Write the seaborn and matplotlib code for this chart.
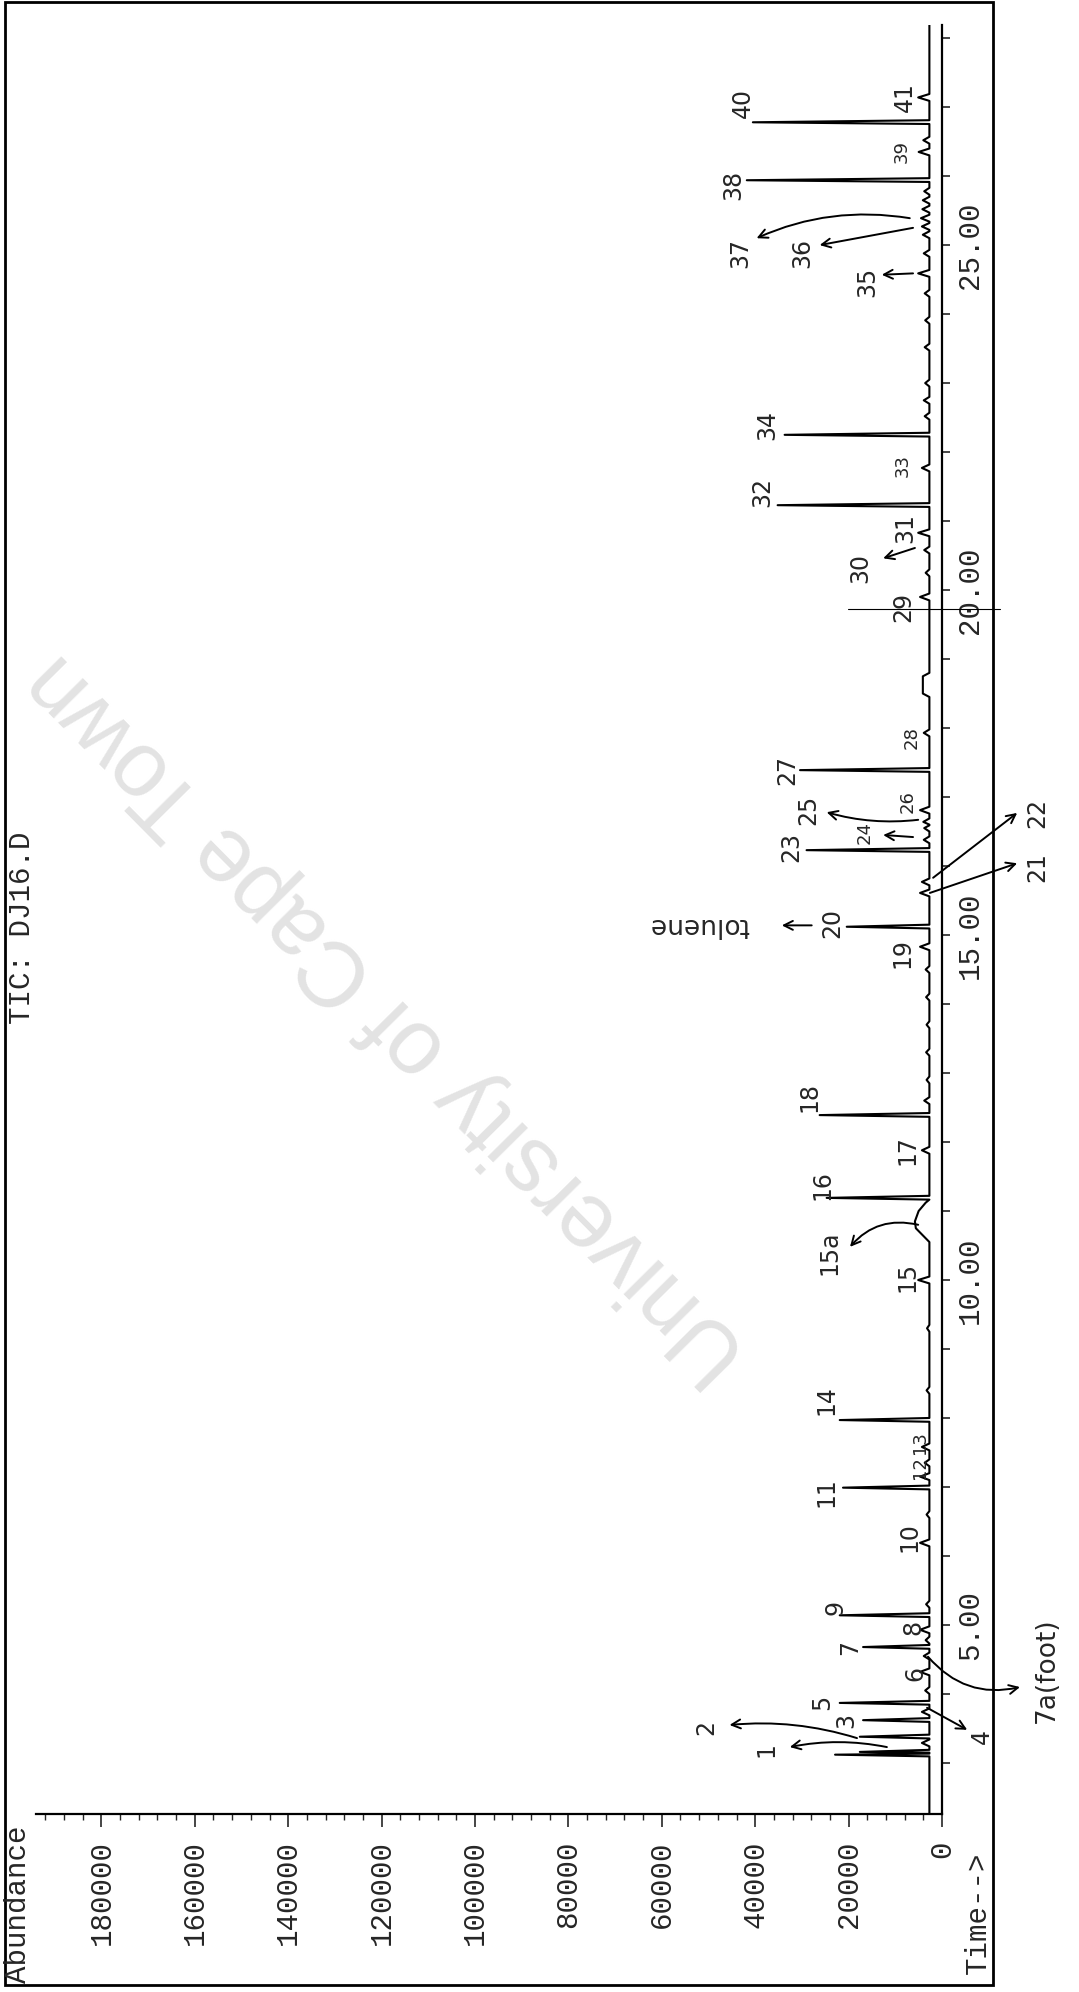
import numpy as np
import pandas as pd
import matplotlib
matplotlib.use("Agg")
import matplotlib.pyplot as plt
import seaborn as sns
from matplotlib.patches import Rectangle
from matplotlib.ticker import MultipleLocator, FormatStrFormatter

# =========================
# DATA
# =========================

time_range = [2.26, 28.19]
abund_range = [194000, 0]
baseline_level = 2700

# tall peaks: retention time (min), apex abundance
major_time = [3.12, 3.16, 3.38, 3.62, 3.87, 4.68, 5.14, 6.99, 7.97, 11.19,
              12.39, 15.12, 16.23, 17.39, 21.23, 22.25, 25.94, 26.78]
major_abund = [22900, 17600, 17600, 16900, 21900, 16900, 21900, 21200, 21900, 24700,
               26200, 20400, 29000, 30400, 35200, 33700, 41800, 40500]

# small bumps on the baseline
minor_time = [3.29, 3.74, 4.05, 4.32, 4.55, 4.78, 4.93, 5.30, 6.19, 6.60,
              7.15, 7.35, 7.58, 8.40, 9.30, 10.00, 11.88, 12.60, 12.90, 13.30,
              13.70, 14.10, 14.50, 14.83, 15.61, 15.77, 16.38, 16.55, 16.64, 16.81,
              17.93, 19.90, 20.25, 20.58, 20.83, 21.77, 22.52, 22.75, 23.00, 23.52,
              23.91, 24.30, 24.59, 24.88, 25.15, 25.27, 25.39, 25.52, 25.65, 25.78,
              26.35, 26.52, 27.14]
minor_abund = [4300, 4300, 3600, 4700, 3900, 3500, 4700, 3400, 4700, 3300,
               4700, 3700, 4300, 3300, 3200, 5100, 4300, 3800, 3300, 3400,
               3300, 3400, 3500, 4700, 4700, 4300, 3900, 3800, 4000, 4700,
               3900, 4700, 3500, 3800, 5100, 4300, 3700, 3900, 3600, 3700,
               3600, 3700, 5100, 3900, 4100, 4300, 4500, 4200, 4100, 3800,
               5000, 4000, 5100]

# broad humps (15a tail, plateau near 18.6 min)
hump_time = [10.55, 10.75, 10.85, 11.00, 11.12, 18.45, 18.50, 18.75, 18.80]
hump_abund = [2700, 5600, 5800, 5000, 3500, 2700, 4100, 4100, 2700]

# hand-written peak numbers
label_text = ["1", "2", "3", "5", "6", "7", "8", "9", "10", "11", "12", "13", "14",
              "15", "15a", "16", "17", "18", "19", "20", "23", "24", "25", "26",
              "27", "28", "29", "30", "31", "32", "33", "34", "35", "36", "37",
              "38", "39", "40", "41", "4", "21", "22", "7a(foot)"]
label_abund = [37500, 50400, 20400, 25700, 5800, 19700, 6200, 22900, 6900, 24700, 4700, 4700, 24700,
               7300, 24000, 25700, 7500, 28300, 8400, 23600, 32200, 16500, 28700, 7300,
               33200, 6400, 8400, 17600, 7900, 38400, 8400, 37500, 16100, 30000, 43300,
               44800, 8600, 42700, 7900, -8600, -20400, -20400, -22500]
label_time = [3.19, 3.52, 3.62, 3.88, 4.30, 4.68, 4.96, 5.26, 6.28, 6.93, 7.28, 7.64, 8.26,
              10.04, 10.39, 11.38, 11.88, 12.65, 14.74, 15.17, 16.28, 16.49, 16.81, 16.93,
              17.39, 17.86, 19.75, 20.32, 20.90, 21.42, 21.81, 22.39, 24.46, 24.88, 24.88,
              25.87, 26.35, 27.06, 27.14, 3.38, 15.99, 16.77, 4.35]
small_labels = ["12", "13", "33", "39", "26", "28", "24"]

# hand-drawn arrows: tail (at peak) -> head (at label)
arrow_tail_abund = [11800, 18200, 3200, 3000, 5100, 27900, 2600, 1900, 6200, 5100, 5800, 6200, 6200, 6900]
arrow_tail_time = [3.23, 3.36, 3.80, 4.54, 10.80, 15.14, 15.61, 15.83, 16.42, 16.67, 20.61, 24.59, 25.25, 25.39]
arrow_head_abund = [32600, 45500, -5400, -16700, 19700, 34300, -16100, -16100, 12600, 24700, 12600, 12900, 26200, 39700]
arrow_head_time = [3.23, 3.55, 3.48, 4.10, 10.48, 15.14, 16.04, 16.77, 16.45, 16.78, 20.46, 24.57, 25.00, 25.10]
arrow_rad = [0.1, 0.1, 0.0, 0.3, 0.3, 0.0, 0.0, 0.0, 0.0, -0.1, 0.0, 0.0, 0.0, 0.15]

# scan artifact line
artifact_abund = [20150, -12400]
artifact_time = [19.72, 19.72]

# =========================
# BUILD TRACE
# =========================

verts = [(time_range[0], baseline_level)]
for t, a in zip(major_time, major_abund):
    verts += [(t - 0.025, baseline_level), (t, a), (t + 0.03, baseline_level)]
for t, a in zip(minor_time, minor_abund):
    verts += [(t - 0.05, baseline_level), (t, a), (t + 0.05, baseline_level)]
verts += list(zip(hump_time, hump_abund))
verts.append((time_range[1], baseline_level))
verts.sort()
trace = pd.DataFrame(verts, columns=["time", "abundance"])

# =========================
# PLOT
# =========================

sns.set_style("white")
plt.rcParams["font.family"] = ["Liberation Mono", "DejaVu Sans Mono"]

W, H = 1079, 1992
fig = plt.figure(figsize=(W / 100, H / 100), dpi=100)
ax = fig.add_axes([36 / W, 1 - 1814 / H, (942 - 36) / W, (1814 - 25) / H])
ax.set_zorder(1)
ax.patch.set_alpha(0)

sns.lineplot(data=trace, x="abundance", y="time", sort=False, estimator=None,
             orient="y", color="black", lw=1.5, ax=ax)
ax.plot(artifact_abund, artifact_time, color="black", lw=0.8, clip_on=False)

ax.set_xlim(*abund_range)
ax.set_ylim(*time_range)
ax.set_xlabel("")
ax.set_ylabel("")

for s in ["left", "top"]:
    ax.spines[s].set_visible(False)
for s in ["right", "bottom"]:
    ax.spines[s].set_linewidth(1.6)
    ax.spines[s].set_color("black")

ax.xaxis.set_major_locator(MultipleLocator(20000))
ax.xaxis.set_minor_locator(MultipleLocator(4000))
ax.xaxis.set_major_formatter(FormatStrFormatter("%d"))
ax.yaxis.set_major_locator(MultipleLocator(5))
ax.yaxis.set_minor_locator(MultipleLocator(1))
ax.yaxis.set_major_formatter(FormatStrFormatter("%.2f"))

ax.tick_params(axis="x", which="major", direction="out", length=9, width=1.2,
               pad=10, labelsize=21, labelrotation=90, bottom=True)
ax.tick_params(axis="x", which="minor", direction="out", length=4, width=1.0, bottom=True)
ax.tick_params(axis="y", which="both", direction="out", length=6, width=1.2,
               left=False, right=True, labelleft=False, labelright=True,
               pad=4, labelsize=21, labelrotation=90)
for lbl in ax.get_yticklabels():
    lbl.set_verticalalignment("center")

# peak labels and arrows
for txt, a, t in zip(label_text, label_abund, label_time):
    fs = 13 if txt in small_labels else 17
    if txt == "7a(foot)":
        fs = 19
    ax.text(a, t, txt, rotation=90, ha="center", va="center", fontsize=fs,
            family="DejaVu Sans", clip_on=False)
ax.text(51900, 15.14, "toluene", rotation=180, ha="center", va="center",
        fontsize=19, family="DejaVu Sans", clip_on=False)

for ta, tt, ha_, ht, r in zip(arrow_tail_abund, arrow_tail_time, arrow_head_abund,
                              arrow_head_time, arrow_rad):
    ax.annotate("", xy=(ha_, ht), xytext=(ta, tt), annotation_clip=False,
                arrowprops=dict(arrowstyle="->", lw=1.4, color="black",
                                mutation_scale=16, shrinkA=0, shrinkB=0,
                                connectionstyle=f"arc3,rad={r}"))

# printout texts
fig.text(22 / W, 1 - 928 / H, "TIC: DJ16.D", rotation=90, ha="center", va="center", fontsize=21)
fig.text(18 / W, 1 - 1983 / H, "Abundance", rotation=90, ha="center", va="bottom", fontsize=21)
fig.text(978 / W, 1 - 1851 / H, "Time-->", rotation=90, ha="center", va="top", fontsize=21)

# watermark
fig.text(388 / W, 1 - 1018 / H, "University of Cape Town", rotation=134.7,
         ha="center", va="center", fontsize=66, color="#e3e3e3",
         family="Liberation Sans", zorder=0.5, rotation_mode="anchor")

# page frame
fig.add_artist(Rectangle((5 / W, 1 - 1985 / H), 988 / W, 1983 / H,
                         transform=fig.transFigure, fill=False, lw=2, ec="black"))

fig.savefig("out.png", dpi=100)
